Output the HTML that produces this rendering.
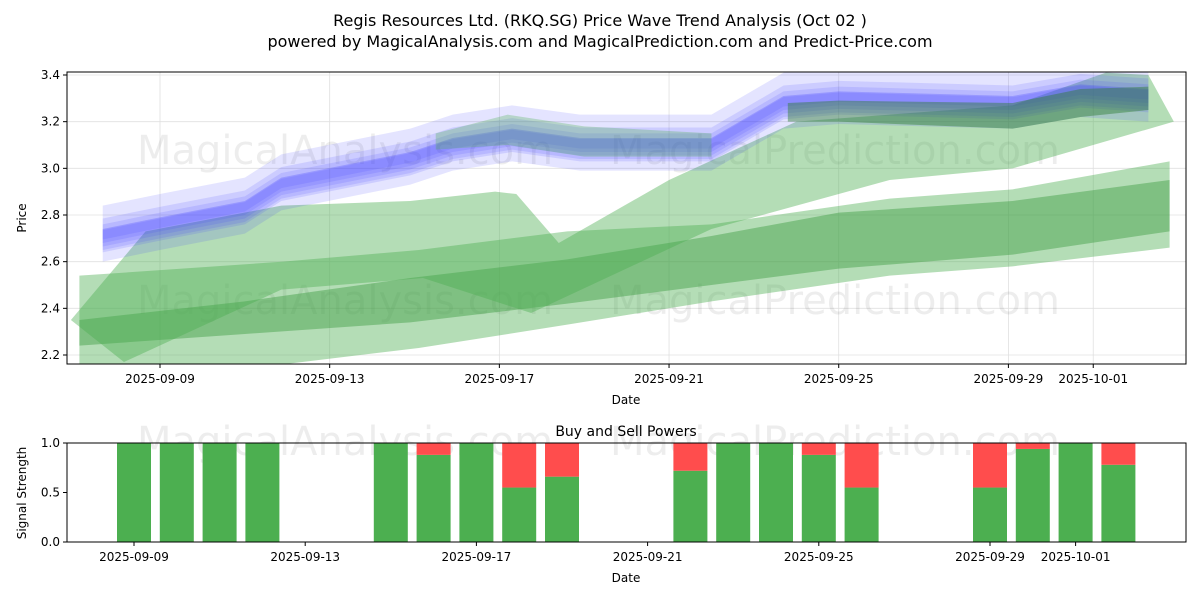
<!DOCTYPE html>
<html><head><meta charset="utf-8">
<style>
body{margin:0;background:#fff;}
svg{display:block;font-family:"DejaVu Sans","Liberation Sans",sans-serif;}
</style></head>
<body>
<svg id="c" width="1200" height="600" xmlns="http://www.w3.org/2000/svg">
<text x="600" y="26" text-anchor="middle" font-size="16">Regis Resources Ltd. (RKQ.SG) Price Wave Trend Analysis (Oct 02 )</text>
<text x="600" y="47" text-anchor="middle" font-size="16">powered by MagicalAnalysis.com and MagicalPrediction.com and Predict-Price.com</text>
<g id="topg"></g>
<g id="botg"></g>
</svg>
<script>
// ---------- data ----------
const tickDates=["2025-09-09","2025-09-13","2025-09-17","2025-09-21","2025-09-25","2025-09-29","2025-10-01"];
const tickDays=[0,4,8,12,16,20,22];
const priceTicks=[2.2,2.4,2.6,2.8,3.0,3.2,3.4];
const blueDays=[-1.35,0,2,2.86,5.9,6.9,8.3,9.9,13,14.7,16,20.1,21.7,23.3];
const bluePrice=[2.71,2.76,2.83,2.93,3.04,3.1,3.14,3.1,3.1,3.28,3.3,3.28,3.33,3.31];
const lowDays=[-1.9,2.9,6.1,9.6,13,17.2,20.1,23.8];
const lowLo=[2.16,2.16,2.23,2.33,2.43,2.54,2.58,2.66];
const lowHi=[2.54,2.6,2.65,2.73,2.76,2.87,2.91,3.03];
const darkDays=[-1.9,2,5.9,9.6,13,16,20.1,23.8];
const darkLo=[2.24,2.29,2.34,2.42,2.5,2.57,2.63,2.73];
const darkHi=[2.35,2.43,2.53,2.61,2.71,2.81,2.86,2.95];
const diagDays=[-2.1,-0.34,2.86,5.9,7.9,8.4,9.4,12,15,20.1,22.3,23.3,23.9,20.1,17.2,13,8.75,6.2,2.86,-0.85];
const diagPrice=[2.35,2.73,2.84,2.86,2.9,2.89,2.68,2.95,3.2,3.27,3.41,3.4,3.2,3.0,2.95,2.74,2.38,2.53,2.48,2.17];
const gTopDays=[14.8,16,20.1,21.7,23.3];
const gTopLo=[3.2,3.2,3.17,3.22,3.25];
const gTopHi=[3.28,3.29,3.28,3.34,3.35];
const gMidDays=[6.5,8.2,10,13];
const gMidLo=[3.08,3.1,3.05,3.05];
const gMidHi=[3.15,3.23,3.18,3.15];
const barDays=[0,1,2,3,6,7,8,9,10,13,14,15,16,17,20,21,22,23];
const buyPower=[1,1,1,1,1,0.88,1,0.55,0.66,0.72,1,1,0.88,0.55,0.55,0.94,1,0.78];
const powerTicks=[0,0.5,1];

// ---------- axes ----------
const NS="http://www.w3.org/2000/svg";
const X0=67,X1=1186;
const xd=d=>160+42.42*d;   // top axis
const xb=d=>134+42.8*d;    // bottom axis
const yp=p=>355-(p-2.2)*233.33;
const yb=v=>542-v*99;
function mk(parent,tag,attrs){const e=document.createElementNS(NS,tag);for(const k in attrs)e.setAttribute(k,attrs[k]);parent.appendChild(e);return e;}
const topG=document.getElementById('topg'), botG=document.getElementById('botg');

tickDays.forEach(d=>{const l=mk(topG,'line',{x1:xd(d),x2:xd(d),y1:72,y2:364,stroke:'#e0e0e0','stroke-width':0.8});

});
priceTicks.forEach(p=>{const l=mk(topG,'line',{x1:X0,x2:X1,y1:yp(p),y2:yp(p),stroke:'#e0e0e0','stroke-width':0.8});

});

[[345,150],[835,150],[345,300],[835,300]].forEach((w,i)=>{const t=mk(topG,'text',{x:w[0],y:w[1]+14,'text-anchor':'middle','font-size':40,fill:'#000','fill-opacity':0.07});
t.textContent=i%2?'MagicalPrediction.com':'MagicalAnalysis.com';

});

const clip=mk(topG,'clipPath',{id:'cp'});mk(clip,'rect',{x:X0,y:72,width:X1-X0,height:292});
const g=mk(topG,'g',{'clip-path':'url(#cp)'});
function bandG(days,lo,hi,fill,op,name){
 let pts=days.map((d,i)=>xd(d)+','+yp(hi[i]));
 pts=pts.concat(days.map((d,i)=>xd(d)+','+yp(lo[i])).reverse());
 const p=mk(g,'polygon',{points:pts.join(' '),fill:fill,'fill-opacity':op});
 
 
}
bandG(lowDays,lowLo,lowHi,'#4caf50',0.42,'wave-band-low');
bandG(darkDays,darkLo,darkHi,'#3e9e42',0.45,'wave-band-core');
{const p=mk(g,'polygon',{points:diagDays.map((d,i)=>xd(d)+','+yp(diagPrice[i])).join(' '),fill:'#4caf50','fill-opacity':0.42});

}
const layers=[[0.1,0.03],[0.08,-0.03],[0.06,0.015],[0.045,-0.015],[0.03,0],[0.02,0.005]];
layers.forEach(([w,o])=>{bandG(blueDays,bluePrice.map(v=>v-w+o),bluePrice.map(v=>v+w+o),'#4040ff',0.14,'blue-wave-band');});
bandG(gMidDays,gMidLo,gMidHi,'#4caf50',0.3,'wave-band-mid');
bandG(gTopDays,gTopLo,gTopHi,'#2e7d32',0.45,'wave-band-top');

{const r=mk(topG,'rect',{x:X0,y:72,width:X1-X0,height:292,fill:'none',stroke:'#000','stroke-width':1});

}
tickDays.forEach((d,i)=>{mk(topG,'line',{x1:xd(d),x2:xd(d),y1:364,y2:368,stroke:'#000'});
const t=mk(topG,'text',{x:xd(d),y:383,'text-anchor':'middle','font-size':12});t.textContent=tickDates[i];

});
priceTicks.forEach(p=>{mk(topG,'line',{x1:X0-4,x2:X0,y1:yp(p),y2:yp(p),stroke:'#000'});
const t=mk(topG,'text',{x:X0-7,y:yp(p)+4,'text-anchor':'end','font-size':12});t.textContent=p.toFixed(1);

});
{const t=mk(topG,'text',{x:626,y:404,'text-anchor':'middle','font-size':12});t.textContent='Date';


const t2=mk(topG,'text',{x:26,y:218,'text-anchor':'middle','font-size':12,transform:'rotate(-90 26 218)'});t2.textContent='Price';

}

{const t=mk(botG,'text',{x:626,y:436,'text-anchor':'middle','font-size':14});t.textContent='Buy and Sell Powers';

}
[[345,455],[835,455]].forEach((w,i)=>{const t=mk(botG,'text',{x:w[0],y:w[1],'text-anchor':'middle','font-size':40,fill:'#000','fill-opacity':0.07});
t.textContent=i?'MagicalPrediction.com':'MagicalAnalysis.com';

});
barDays.forEach((d,i)=>{const cx=xb(d),w=34,b=buyPower[i];
const r1=mk(botG,'rect',{x:cx-w/2,y:yb(b),width:w,height:yb(0)-yb(b),fill:'#4caf50'});


if(b<1){const r2=mk(botG,'rect',{x:cx-w/2,y:yb(1),width:w,height:yb(b)-yb(1),fill:'#ff4d4d'});

}});
{const r=mk(botG,'rect',{x:X0,y:443,width:X1-X0,height:99,fill:'none',stroke:'#000'});

}
tickDays.forEach((d,i)=>{mk(botG,'line',{x1:xb(d),x2:xb(d),y1:542,y2:546,stroke:'#000'});
const t=mk(botG,'text',{x:xb(d),y:561,'text-anchor':'middle','font-size':12});t.textContent=tickDates[i];

});
powerTicks.forEach(v=>{mk(botG,'line',{x1:X0-4,x2:X0,y1:yb(v),y2:yb(v),stroke:'#000'});
const t=mk(botG,'text',{x:X0-7,y:yb(v)+4,'text-anchor':'end','font-size':12});t.textContent=v.toFixed(1);

});
{const t=mk(botG,'text',{x:626,y:582,'text-anchor':'middle','font-size':12});t.textContent='Date';


const t2=mk(botG,'text',{x:26,y:493,'text-anchor':'middle','font-size':12,transform:'rotate(-90 26 493)'});t2.textContent='Signal Strength';

}
</script>
</body></html>
